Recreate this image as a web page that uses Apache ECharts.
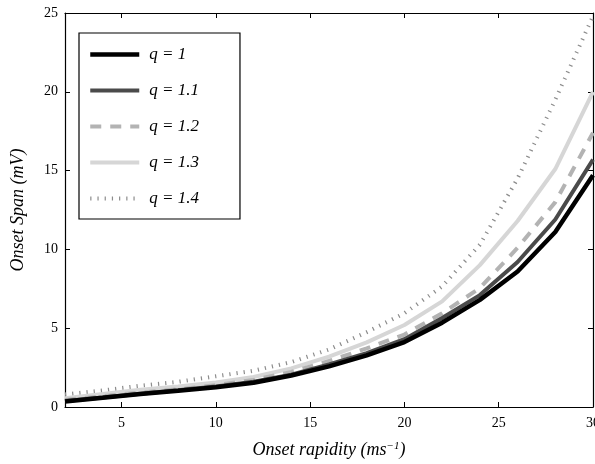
<!DOCTYPE html>
<html>
<head>
    <meta charset="utf-8">
    <title>Onset span vs onset rapidity</title>
    <style>
        body { margin: 0; padding: 0; background: #fff; }
        #main { width: 595px; height: 464px; }
    </style>
    <script src="https://cdn.jsdelivr.net/npm/echarts@6/dist/echarts.min.js"></script>
</head>
<body>
<div id="main"></div>
<script type="text/javascript">
    // onset rapidity (ms^-1), sampled every 2
    let rapidity = [2, 4, 6, 8, 10, 12, 14, 16, 18, 20, 22, 24, 26, 28, 30];

    // onset span (mV), one list per q
    let spanQ10 = [0.35, 0.58, 0.82, 1.03, 1.25, 1.54, 2.0, 2.58, 3.28, 4.12, 5.35, 6.8, 8.6, 11.1, 14.7];
    let spanQ11 = [0.38, 0.6, 0.84, 1.06, 1.3, 1.6, 2.05, 2.7, 3.42, 4.3, 5.65, 7.1, 9.2, 11.9, 15.7];
    let spanQ12 = [0.45, 0.68, 0.92, 1.12, 1.38, 1.72, 2.22, 2.92, 3.72, 4.6, 5.95, 7.55, 10.1, 13.0, 17.4];
    let spanQ13 = [0.55, 0.82, 1.1, 1.3, 1.55, 1.9, 2.45, 3.2, 4.1, 5.2, 6.7, 9.0, 11.8, 15.1, 20.0];
    let spanQ14 = [0.8, 1.05, 1.35, 1.6, 1.95, 2.3, 2.85, 3.65, 4.75, 5.95, 7.65, 10.3, 14.5, 19.5, 24.8];

    let seriesNames = ['q = 1', 'q = 1.1', 'q = 1.2', 'q = 1.3', 'q = 1.4'];
    let yTicks = [0, 5, 10, 15, 20, 25];

    const serif = '"Liberation Serif", "DejaVu Serif", serif';

    function pairs(ys) {
        return rapidity.map((x, i) => [x, ys[i]]);
    }

    let styles = [
        { color: '#000000', width: 4.5, type: 'solid' },
        { color: '#4a4a4a', width: 4, type: 'solid' },
        { color: '#b3b3b3', width: 4, type: [11, 9] },
        { color: '#d6d6d6', width: 4, type: 'solid' },
        { color: '#8c8c8c', width: 4, type: [1.2, 6] }
    ];
    let values = [spanQ10, spanQ11, spanQ12, spanQ13, spanQ14];

    let series = values.map((ys, i) => ({
        name: seriesNames[i],
        type: 'line',
        data: pairs(ys),
        symbol: 'none',
        smooth: false,
        silent: true,
        z: 10 - i,
        lineStyle: {
            color: styles[i].color,
            width: styles[i].width,
            type: styles[i].type,
            cap: 'butt'
        },
        itemStyle: { color: styles[i].color }
    }));

    // legend entries: line only, same style as the curve
    let legendData = seriesNames.map((name, i) => ({
        name: name,
        itemStyle: { opacity: 0 },
        lineStyle: {
            color: styles[i].color,
            width: styles[i].width,
            type: styles[i].type,
            cap: 'butt'
        }
    }));

    let tickCommon = { show: true, inside: true, length: 5, lineStyle: { color: '#000', width: 1 } };
    let lineCommon = { show: true, onZero: false, lineStyle: { color: '#000', width: 1.2 } };

    let myChart = echarts.init(document.getElementById('main'), null, { renderer: 'canvas' });
    let option = {
        animation: false,
        backgroundColor: '#fff',
        grid: { left: 65, right: 2, top: 13, bottom: 57, containLabel: false, outerBoundsMode: 'none' },
        legend: {
            orient: 'vertical',
            left: 79,
            top: 33,
            data: legendData,
            itemWidth: 49,
            itemHeight: 18,
            itemGap: 19,
            padding: [13, 41, 12, 9],
            borderColor: '#000',
            borderWidth: 1.2,
            backgroundColor: '#fff',
            selectedMode: false,
            itemStyle: { opacity: 0 },
            textStyle: {
                fontFamily: serif,
                fontStyle: 'italic',
                fontSize: 17,
                color: '#000',
                padding: [0, 0, 0, 5]
            }
        },
        xAxis: [
            {
                type: 'value',
                min: 2,
                max: 30,
                splitNumber: 5,
                name: '{t|Onset rapidity (ms}{s|−1}{t|)}',
                nameLocation: 'middle',
                nameGap: 34,
                nameTextStyle: {
                    rich: {
                        t: { fontFamily: serif, fontStyle: 'italic', fontSize: 18, color: '#000' },
                        s: { fontFamily: serif, fontStyle: 'italic', fontSize: 11, color: '#000', verticalAlign: 'top', padding: [0, 0, 8, 0] }
                    }
                },
                axisLine: lineCommon,
                axisTick: tickCommon,
                axisLabel: {
                    showMinLabel: false,
                    margin: 9,
                    fontFamily: serif,
                    fontSize: 14,
                    color: '#000'
                },
                splitLine: { show: false }
            },
            {
                type: 'value',
                position: 'top',
                min: 2,
                max: 30,
                splitNumber: 5,
                axisLine: lineCommon,
                axisTick: tickCommon,
                axisLabel: { show: false },
                splitLine: { show: false }
            }
        ],
        yAxis: [
            {
                type: 'value',
                min: yTicks[0],
                max: yTicks[yTicks.length - 1],
                interval: 5,
                name: 'Onset Span (mV)',
                nameLocation: 'middle',
                nameGap: 38,
                nameTextStyle: { fontFamily: serif, fontStyle: 'italic', fontSize: 18, color: '#000' },
                axisLine: lineCommon,
                axisTick: tickCommon,
                axisLabel: { margin: 7, fontFamily: serif, fontSize: 14, color: '#000' },
                splitLine: { show: false }
            },
            {
                type: 'value',
                position: 'right',
                min: yTicks[0],
                max: yTicks[yTicks.length - 1],
                interval: 5,
                axisLine: lineCommon,
                axisTick: tickCommon,
                axisLabel: { show: false },
                splitLine: { show: false }
            }
        ],
        series: series
    };
    myChart.setOption(option);
</script>
</body>
</html>
